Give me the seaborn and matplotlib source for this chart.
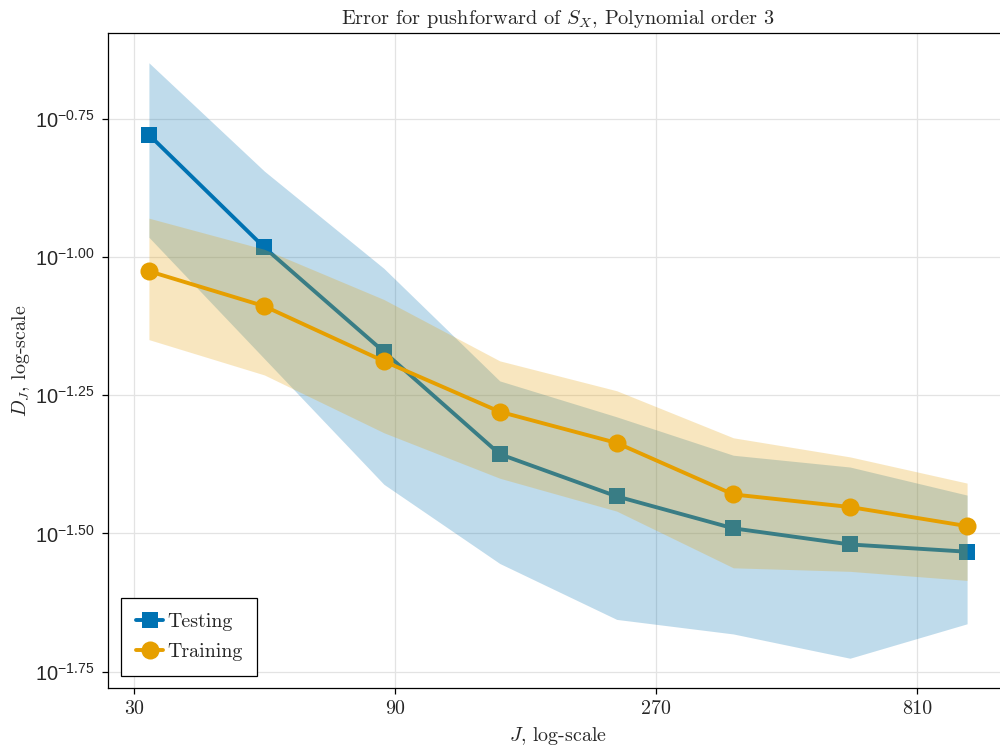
import numpy as np
import matplotlib
matplotlib.use("Agg")
import matplotlib.pyplot as plt
import seaborn as sns
import pandas as pd

# ---------------- data ----------------
J = [32, 52, 86, 140, 229, 374, 611, 1000]

test_mean = [0.1665, 0.1041, 0.0674, 0.0440, 0.0369, 0.0323, 0.0302, 0.0293]
test_upper = [0.2247, 0.1431, 0.0954, 0.0597, 0.0514, 0.0438, 0.0417, 0.0371]
test_lower = [0.1086, 0.0655, 0.0388, 0.0279, 0.0221, 0.0208, 0.0188, 0.0217]

train_mean = [0.0943, 0.0815, 0.0648, 0.0525, 0.0461, 0.0372, 0.0353, 0.0326]
train_upper = [0.1176, 0.1033, 0.0838, 0.0649, 0.0573, 0.0471, 0.0435, 0.0390]
train_lower = [0.0709, 0.0612, 0.0481, 0.0398, 0.0347, 0.0274, 0.0270, 0.0260]

x_ticks = [30, 90, 270, 810]
x_ticklabels = ["30", "90", "270", "810"]
y_tick_exps = [-0.75, -1.00, -1.25, -1.50, -1.75]
y_ticklabels = [r"$10^{-0.75}$", r"$10^{-1.00}$", r"$10^{-1.25}$",
                r"$10^{-1.50}$", r"$10^{-1.75}$"]

title = r"Error for pushforward of $S_X$, Polynomial order 3"
xlabel = r"$J$, log-scale"
ylabel = r"$D_J$, log-scale"
series_names = ["Testing", "Training"]

BLUE = "#0072B2"
ORANGE = "#E69F00"

# ---------------- style ----------------
sns.set_style("white")
plt.rcParams["mathtext.fontset"] = "custom"
plt.rcParams["mathtext.rm"] = "Liberation Sans"
plt.rcParams["mathtext.it"] = "Liberation Sans:italic"
plt.rcParams["mathtext.bf"] = "Liberation Sans:bold"
plt.rcParams["axes.unicode_minus"] = True
plt.rcParams["grid.alpha"] = 1.0

FS = 14.4  # 20 px at 100 dpi

fig = plt.figure(figsize=(10, 7.45), dpi=100)
ax = fig.add_axes([0.108, 57 / 745, 0.900, 655 / 745])

df_test = pd.DataFrame({"J": J, "D": test_mean})
df_train = pd.DataFrame({"J": J, "D": train_mean})

# testing band + line
ax.fill_between(J, test_lower, test_upper, color=BLUE, alpha=0.25,
                linewidth=0, zorder=1)
sns.lineplot(data=df_test, x="J", y="D", ax=ax, color=BLUE, linewidth=2.8,
             marker="s", markersize=12, markeredgewidth=0,
             markeredgecolor=BLUE, label=series_names[0], zorder=2,
             errorbar=None)
# training band + line
ax.fill_between(J, train_lower, train_upper, color=ORANGE, alpha=0.25,
                linewidth=0, zorder=3)
sns.lineplot(data=df_train, x="J", y="D", ax=ax, color=ORANGE, linewidth=2.8,
             marker="o", markersize=13, markeredgewidth=0,
             markeredgecolor=ORANGE, label=series_names[1], zorder=4,
             errorbar=None)

ax.set_xscale("log")
ax.set_yscale("log")

# limits with 5% margin in log space (like the source)
lx = np.log10(J)
mx = 0.05 * (lx.max() - lx.min())
ax.set_xlim(10 ** (lx.min() - mx), 10 ** (lx.max() + mx))
ally = np.log10(np.concatenate([test_lower, test_upper, train_lower, train_upper]))
my = 0.05 * (ally.max() - ally.min())
ax.set_ylim(10 ** (ally.min() - my), 10 ** (ally.max() + my))

ax.xaxis.set_minor_locator(matplotlib.ticker.NullLocator())
ax.yaxis.set_minor_locator(matplotlib.ticker.NullLocator())
ax.set_xticks(x_ticks)
ax.set_xticklabels(x_ticklabels, fontfamily="cmr10", fontsize=FS)
ax.set_yticks([10 ** e for e in y_tick_exps])
ax.set_yticklabels(y_ticklabels, fontsize=FS)

ax.tick_params(axis="both", which="major", direction="out", length=4.5,
               width=0.9, color="black", left=True, bottom=True)
ax.tick_params(axis="x", pad=4)
ax.tick_params(axis="y", pad=5.5)

ax.grid(True, which="major", color="#e3e3e3", linewidth=0.9, alpha=1.0)
ax.set_axisbelow(True)
for s in ax.spines.values():
    s.set_visible(True)
    s.set_color("black")
    s.set_linewidth(0.9)

ax.set_title(title, fontfamily="cmr10", math_fontfamily="cm", fontsize=14.6,
             pad=6.5)
ax.set_xlabel(xlabel, fontfamily="cmr10", math_fontfamily="cm", fontsize=FS,
              labelpad=5)
ax.set_ylabel(ylabel, fontfamily="cmr10", math_fontfamily="cm", fontsize=FS,
              labelpad=2)

leg = ax.legend(loc="lower left", bbox_to_anchor=(13 / 900, 12 / 655),
                borderaxespad=0, frameon=True, fancybox=False,
                edgecolor="black", framealpha=1,
                prop={"family": "cmr10", "size": FS},
                handlelength=1.35, handletextpad=0.2, labelspacing=0.6,
                borderpad=0.75, numpoints=1)
leg.get_frame().set_linewidth(0.9)

fig.savefig("out.png", dpi=100)
